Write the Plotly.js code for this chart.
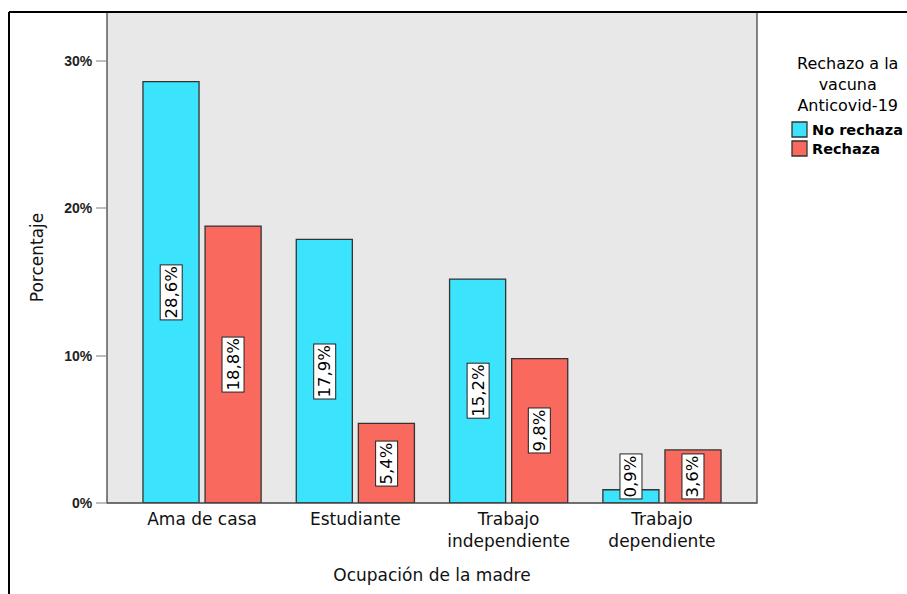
<!DOCTYPE html>
<html>
<head>
<meta charset="utf-8">
<script src="https://cdn.plot.ly/plotly-3.0.1.min.js"></script>
<style>html,body{margin:0;padding:0;background:#fff;}#chart{width:907px;height:594px;}</style>
</head>
<body>
<div id="chart"></div>
<script>
// ---- data ----
const categories = ["Ama de casa", "Estudiante", "Trabajo<br>independiente", "Trabajo<br>dependiente"];
const noRechaza = [28.6, 17.9, 15.2, 0.9];
const rechaza = [18.8, 5.4, 9.8, 3.6];
const seriesNames = ["No rechaza", "Rechaza"];
const yTickVals = [0, 10, 20, 30];
const yTickText = ["0%", "10%", "20%", "30%"];
const legendTitleLines = ["Rechazo a la", "vacuna", "Anticovid-19"];
const xTitle = "Ocupación de la madre";
const yTitle = "Porcentaje";

// ---- style ----
const colors = ["#3BE3FD", "#F9695D"];
const FONT = "DejaVu Sans, sans-serif";
const W = 907, H = 594;
const M = {l: 107, r: 150, t: 12, b: 91};
const PW = W - M.l - M.r, PH = H - M.t - M.b;
const px2x = p => (p - M.l) / PW;
const px2y = p => (H - M.b - p) / PH;

const seriesValues = [noRechaza, rechaza];
const traces = seriesValues.map((vals, i) => ({
  type: "bar",
  name: seriesNames[i],
  x: categories,
  y: vals,
  marker: {color: colors[i], line: {color: "#333", width: 1.3}},
  hoverinfo: "none",
  showlegend: false
}));

const fmt = v => v.toFixed(1).replace(".", ",") + "%";
const annotations = [];
seriesValues.forEach((vals, i) => {
  vals.forEach((v, j) => {
    annotations.push({
      x: categories[j], y: Math.max(v / 2, 1.8), xref: "x", yref: "y",
      xshift: i === 0 ? -31 : 31,
      text: fmt(v), textangle: -90, showarrow: false,
      bgcolor: "#fff", bordercolor: "#222", borderwidth: 1, borderpad: 1,
      font: {family: FONT, size: 16.5, color: "#000"}
    });
  });
});
// legend title
annotations.push({
  x: px2x(847), y: px2y(84), xref: "paper", yref: "paper",
  text: legendTitleLines.join("<br>"), showarrow: false, align: "center",
  xanchor: "center", yanchor: "middle",
  font: {family: FONT, size: 16, color: "#000"}
});
const shapes = [];
seriesNames.forEach((n, i) => {
  const top = 122 + i * 19;
  shapes.push({type: "rect", xref: "paper", yref: "paper",
    x0: px2x(792), x1: px2x(807), y0: px2y(top), y1: px2y(top + 15),
    fillcolor: colors[i], line: {color: "#333", width: 1.3}});
  annotations.push({x: px2x(810), y: px2y(top + 7.5), xref: "paper", yref: "paper",
    text: "<b>" + n + "</b>", showarrow: false, xanchor: "left", yanchor: "middle",
    font: {family: FONT, size: 14.5, color: "#000"}});
});
// plot border
shapes.push({type: "rect", xref: "paper", yref: "paper", x0: 0, x1: 1, y0: 0, y1: 1,
  line: {color: "#444", width: 1.3}, fillcolor: "rgba(0,0,0,0)", layer: "above"});
// outer frame (top and left)
shapes.push({type: "line", xref: "paper", yref: "paper",
  x0: px2x(9), x1: px2x(907), y0: px2y(12), y1: px2y(12), line: {color: "#000", width: 2}});
shapes.push({type: "line", xref: "paper", yref: "paper",
  x0: px2x(9), x1: px2x(9), y0: px2y(12), y1: px2y(594), line: {color: "#000", width: 2}});

const layout = {
  width: W, height: H,
  margin: M,
  paper_bgcolor: "#fff",
  plot_bgcolor: "#E8E8E8",
  barmode: "group",
  bargap: 0.19,
  bargroupgap: 0.097,
  showlegend: false,
  font: {family: FONT, color: "#111"},
  xaxis: {
    range: [-0.62, 3.62],
    showgrid: false, zeroline: false, showline: false, ticks: "",
    ticklabelstandoff: 4,
    tickfont: {family: FONT, size: 17, color: "#111"},
    title: {text: xTitle, font: {family: FONT, size: 17, color: "#111"}, standoff: 19},
    fixedrange: true
  },
  yaxis: {
    range: [0, 33.33],
    tickmode: "array", tickvals: yTickVals, ticktext: yTickText,
    showgrid: false, zeroline: false, showline: false,
    ticks: "outside", ticklen: 10, tickwidth: 2, tickcolor: "#BDBDBD",
    ticklabelstandoff: 1,
    tickfont: {family: "Liberation Sans, Arial, sans-serif", size: 14, color: "#222", weight: "bold"},
    title: {text: yTitle, font: {family: FONT, size: 17, color: "#111"}, standoff: 16},
    fixedrange: true
  },
  annotations: annotations,
  shapes: shapes
};

Plotly.newPlot("chart", traces, layout, {displayModeBar: false, staticPlot: true});
</script>
</body>
</html>
